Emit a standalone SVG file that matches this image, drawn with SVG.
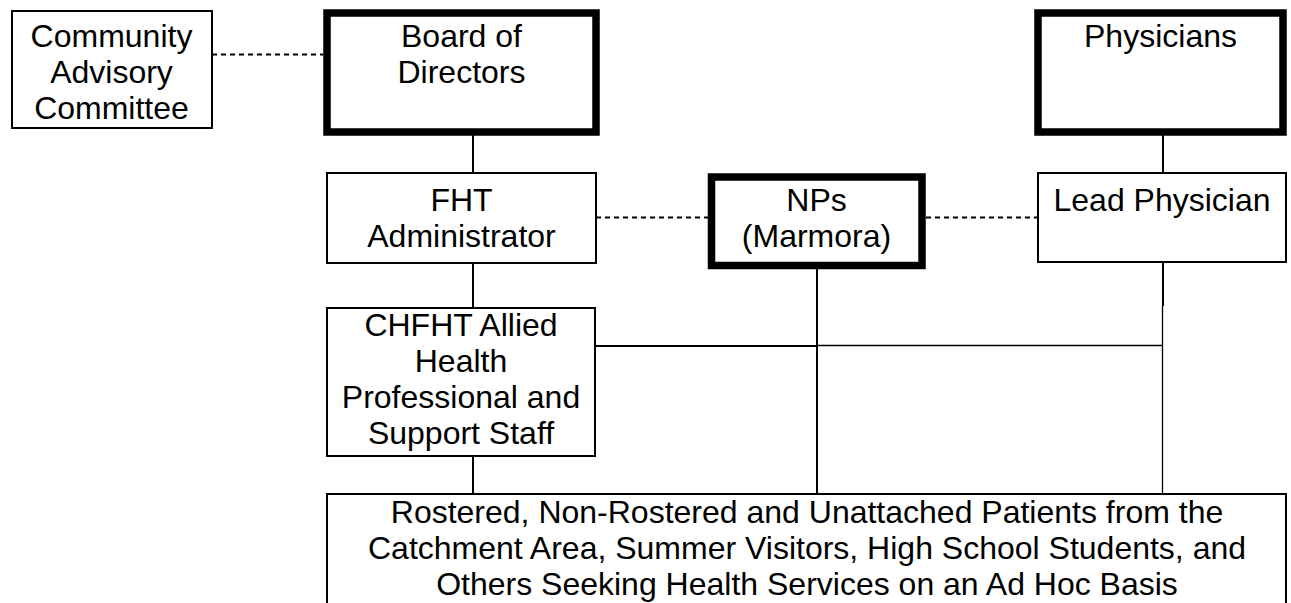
<svg xmlns="http://www.w3.org/2000/svg" width="1291" height="603" viewBox="0 0 1291 603">
<style>
.thin{fill:#fff;stroke:#000;stroke-width:2}
.thick{fill:#fff;stroke:#000;stroke-width:7.5}
.ln{stroke:#000;stroke-width:2;fill:none}
.ln1{stroke:#000;stroke-width:1.3;fill:none}
.dash{stroke:#000;stroke-width:2;stroke-dasharray:5 4;fill:none}
text{font-family:"Liberation Sans",Arial,sans-serif;font-size:32px;fill:#000;text-anchor:middle}
</style>
<rect width="1291" height="603" fill="#fff"/>
<g id="connectors">
<line class="dash" x1="212" y1="54.5" x2="323" y2="54.5"/>
<line class="dash" x1="596" y1="217.5" x2="708" y2="217.5"/>
<line class="dash" x1="926" y1="217.5" x2="1037" y2="217.5"/>
<line class="ln" x1="473" y1="135" x2="473" y2="173"/>
<line class="ln" x1="473" y1="263" x2="473" y2="308"/>
<line class="ln" x1="473" y1="456" x2="473" y2="494"/>
<line class="ln" x1="817" y1="269" x2="817" y2="494"/>
<line class="ln" x1="1163" y1="135" x2="1163" y2="173"/>
<line class="ln" x1="1163" y1="262" x2="1163" y2="306"/>
<line class="ln1" x1="1162.5" y1="306" x2="1162.5" y2="494"/>
<line class="ln" x1="596" y1="346" x2="817" y2="346"/>
<line class="ln1" x1="817" y1="345.5" x2="1163" y2="345.5"/>
</g>
<g id="community">
<rect class="thin" x="12" y="11" width="200" height="117"/>
<text x="111.5" y="47">Community</text>
<text x="111.5" y="83">Advisory</text>
<text x="111.5" y="119">Committee</text>
</g>
<g id="board">
<rect class="thick" x="327" y="13" width="269" height="119"/>
<text x="461.5" y="47">Board of</text>
<text x="461.5" y="83">Directors</text>
</g>
<g id="physicians">
<rect class="thick" x="1038" y="13" width="245" height="119"/>
<text x="1160.5" y="47">Physicians</text>
</g>
<g id="fht">
<rect class="thin" x="327" y="173" width="269" height="90"/>
<text x="461.5" y="211">FHT</text>
<text x="461.5" y="247">Administrator</text>
</g>
<g id="nps">
<rect class="thick" x="711.5" y="177" width="210.5" height="88.5"/>
<text x="816.5" y="211">NPs</text>
<text x="816.5" y="247">(Marmora)</text>
</g>
<g id="lead">
<rect class="thin" x="1038" y="173" width="248" height="89"/>
<text x="1162" y="211">Lead Physician</text>
</g>
<g id="chfht">
<rect class="thin" x="327" y="308" width="268" height="148"/>
<text x="461" y="336">CHFHT Allied</text>
<text x="461" y="372">Health</text>
<text x="461" y="408">Professional and</text>
<text x="461" y="444">Support Staff</text>
</g>
<g id="patients">
<rect class="thin" x="327" y="494" width="959" height="120"/>
<text x="807" y="523">Rostered, Non-Rostered and Unattached Patients from the</text>
<text x="807" y="559">Catchment Area, Summer Visitors, High School Students, and</text>
<text x="807" y="595">Others Seeking Health Services on an Ad Hoc Basis</text>
</g>
</svg>
